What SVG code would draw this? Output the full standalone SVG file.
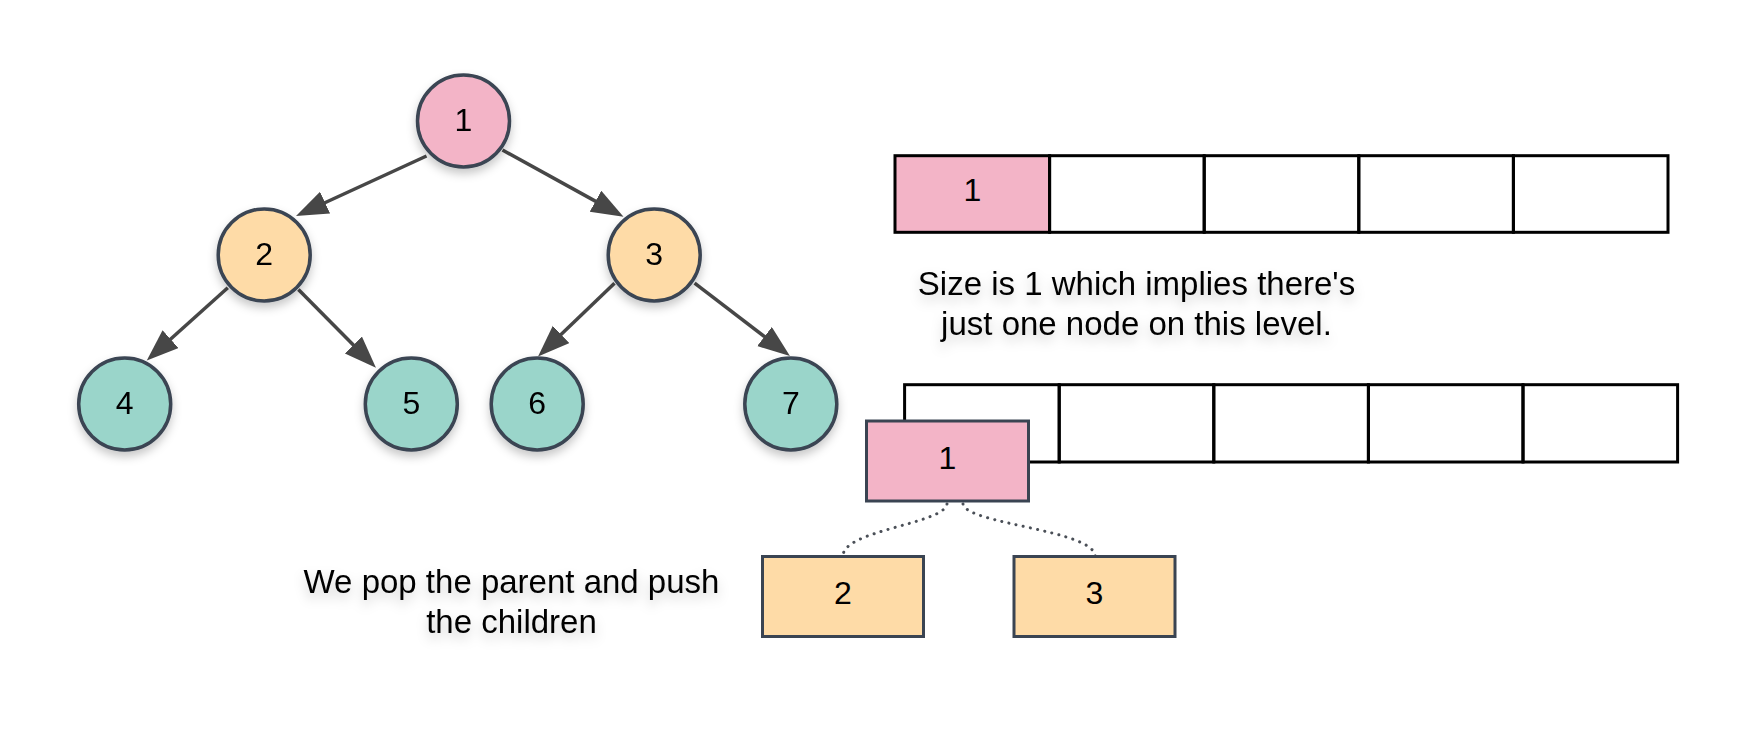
<svg xmlns="http://www.w3.org/2000/svg" width="1755" height="743" viewBox="0 0 1755 743">
  <defs>
    <filter id="sh" x="-30%" y="-30%" width="160%" height="170%">
      <feDropShadow dx="0" dy="5" stdDeviation="5" flood-color="#000" flood-opacity="0.22"/>
    </filter>
    <filter id="tsh" x="-10%" y="-30%" width="120%" height="180%">
      <feDropShadow dx="0" dy="6" stdDeviation="6" flood-color="#000" flood-opacity="0.2"/>
    </filter>
    <marker id="arr" markerUnits="userSpaceOnUse" markerWidth="34" markerHeight="26" refX="20" refY="12" orient="auto">
      <path d="M0,0 L32,12 L0,24 z" fill="#474747"/>
    </marker>
  </defs>
  <style>
    .c { stroke: #3a4452; stroke-width: 3.5; }
    .pink { fill: #f3b4c7; }
    .org { fill: #fedba7; }
    .teal { fill: #9ad5ca; }
    .lbl { font-family: "Liberation Sans", Arial, sans-serif; font-size: 32px; fill: #000; text-anchor: middle; }
    .txt { font-family: "Liberation Sans", Arial, sans-serif; font-size: 33px; fill: #000; text-anchor: middle; }
    .edge { stroke: #474747; stroke-width: 3.5; fill: none; marker-end: url(#arr); }
    .cell { fill: none; stroke: #000; stroke-width: 3; }
    .dot { stroke: #4a4f57; stroke-width: 3; fill: none; stroke-linecap: round; stroke-dasharray: 0.1 7.2; }
    .box { stroke: #3a4452; stroke-width: 3; }
  </style>
  <rect width="1755" height="743" fill="#fff"/>

  <g id="connectors">
    <line class="edge" x1="426.5" y1="156" x2="306.9" y2="211"/>
    <line class="edge" x1="502.5" y1="150" x2="613" y2="210.9"/>
    <line class="edge" x1="227.8" y1="287.8" x2="155.7" y2="352.5"/>
    <line class="edge" x1="298.4" y1="289.6" x2="367.5" y2="359.2"/>
    <line class="edge" x1="614.5" y1="283.2" x2="546.7" y2="348.3"/>
    <line class="edge" x1="694.6" y1="283.2" x2="780.4" y2="348.7"/>
    <path class="dot" d="M947,504 C944,524 843,530 843,556"/>
    <path class="dot" d="M963,504 C966,524 1094,530 1095,556"/>
  </g>

  <g id="node1" filter="url(#sh)">
    <circle class="c pink" cx="463.5" cy="121" r="46"/>
    <text class="lbl" x="463.5" y="131">1</text>
  </g>
  <g id="node2" filter="url(#sh)">
    <circle class="c org" cx="264.2" cy="255" r="46"/>
    <text class="lbl" x="264.2" y="265">2</text>
  </g>
  <g id="node3" filter="url(#sh)">
    <circle class="c org" cx="654.2" cy="255" r="46"/>
    <text class="lbl" x="654.2" y="265">3</text>
  </g>
  <g id="node4" filter="url(#sh)">
    <circle class="c teal" cx="124.7" cy="404" r="46"/>
    <text class="lbl" x="124.7" y="414">4</text>
  </g>
  <g id="node5" filter="url(#sh)">
    <circle class="c teal" cx="411.3" cy="404" r="46"/>
    <text class="lbl" x="411.3" y="414">5</text>
  </g>
  <g id="node6" filter="url(#sh)">
    <circle class="c teal" cx="537.2" cy="404" r="46"/>
    <text class="lbl" x="537.2" y="414">6</text>
  </g>
  <g id="node7" filter="url(#sh)">
    <circle class="c teal" cx="790.8" cy="404" r="46"/>
    <text class="lbl" x="790.8" y="414">7</text>
  </g>

  <g id="array1">
    <rect x="895" y="155.7" width="154.6" height="76.6" fill="#f3b4c7"/>
    <rect class="cell" x="895" y="155.7" width="154.6" height="76.6"/>
    <rect class="cell" x="1049.6" y="155.7" width="154.6" height="76.6"/>
    <rect class="cell" x="1204.2" y="155.7" width="154.6" height="76.6"/>
    <rect class="cell" x="1358.8" y="155.7" width="154.6" height="76.6"/>
    <rect class="cell" x="1513.4" y="155.7" width="154.6" height="76.6"/>
    <text class="lbl" x="972.3" y="201">1</text>
  </g>

  <g id="sizeText" filter="url(#tsh)">
    <text class="txt" x="1136.5" y="295">Size is 1 which implies there's</text>
    <text class="txt" x="1136.5" y="335">just one node on this level.</text>
  </g>

  <g id="array2">
    <rect class="cell" x="904.6" y="384.7" width="154.6" height="77.3"/>
    <rect class="cell" x="1059.2" y="384.7" width="154.6" height="77.3"/>
    <rect class="cell" x="1213.8" y="384.7" width="154.6" height="77.3"/>
    <rect class="cell" x="1368.4" y="384.7" width="154.6" height="77.3"/>
    <rect class="cell" x="1523" y="384.7" width="154.6" height="77.3"/>
  </g>

  <g id="popped1">
    <rect class="box pink" x="866.5" y="421" width="162" height="80"/>
    <text class="lbl" x="947.5" y="469">1</text>
  </g>
  <g id="child2">
    <rect class="box org" x="762.5" y="556.5" width="161" height="80"/>
    <text class="lbl" x="843" y="604">2</text>
  </g>
  <g id="child3">
    <rect class="box org" x="1014" y="556.5" width="161" height="80"/>
    <text class="lbl" x="1094.5" y="604">3</text>
  </g>

  <g id="popText" filter="url(#tsh)">
    <text class="txt" x="511.5" y="593">We pop the parent and push</text>
    <text class="txt" x="511.5" y="633">the children</text>
  </g>
</svg>
